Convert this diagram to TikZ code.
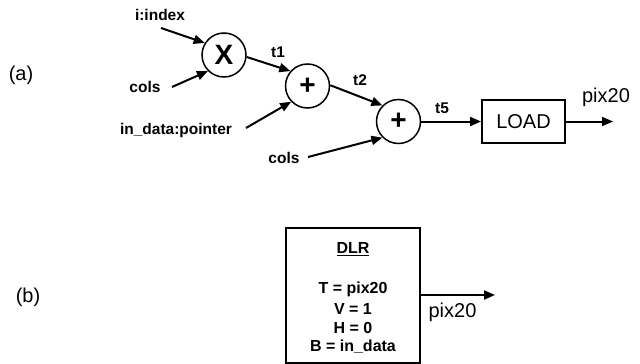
\documentclass[tikz,border=0pt]{standalone}
\usepackage{fontspec}
\setmainfont{Liberation Sans}
\usetikzlibrary{arrows.meta}
\begin{document}
\begin{tikzpicture}[x=1pt,y=-1pt,
  lbl/.style={font=\fontsize{15.5}{18}\selectfont\bfseries, inner sep=0pt},
  reg/.style={font=\fontsize{20}{24}\selectfont, inner sep=0pt},
  op/.style={circle, draw, line width=1.5pt, minimum size=44pt, inner sep=0pt, font=\fontsize{28}{30}\selectfont\bfseries},
  arr/.style={line width=2pt, -{Triangle[length=11pt,width=9pt]}},
  box/.style={draw, line width=2pt}]
\useasboundingbox (0,0) rectangle (640,364);
% (a)
\node[reg] (la) at (21,75) {(a)};
\node[op] (X) at (224,55) {X};
\node[op] (P1) at (307.5,86) {+};
\node[op] (P2) at (398.5,121.5) {+};
\node[box, minimum width=83pt, minimum height=43pt, inner sep=0pt, font=\fontsize{20}{24}\selectfont] (LOAD) at (523.5,121.5) {LOAD};
\node[lbl] (ii) at (160,15) {i:index};
\node[lbl] (c1) at (145,87) {cols};
\node[lbl] (ind) at (176,130) {in\_data:pointer};
\node[lbl] (c2) at (284,158) {cols};
\node[lbl] (t1) at (278,52) {t1};
\node[lbl] (t2) at (360,80) {t2};
\node[lbl] (t5) at (442,108) {t5};
\node[reg] (po) at (606,97) {pix20};
\coordinate (s1) at (161,28);
\coordinate (s2) at (172,87);
\coordinate (s3) at (246,128);
\coordinate (s4) at (308,157);
\coordinate (e1) at (613,121.5);
\draw[arr] (s1) -- (X.148);
\draw[arr] (s2) -- (X.225);
\draw[arr] (X.-5) -- (P1.139);
\draw[arr] (s3) -- (P1.224);
\draw[arr] (P1.2) -- (P2.135);
\draw[arr] (s4) -- (P2.225);
\draw[arr] (P2.east) -- (LOAD.west);
\draw[arr] (LOAD.east) -- (e1);
% (b)
\node[reg] (lb) at (28,297) {(b)};
\draw[box] (286,228) rectangle (420,363);
\node[lbl, font=\fontsize{16}{18}\selectfont\bfseries] (dlr) at (353,249) {\underline{DLR}};
\node[lbl, font=\fontsize{16}{18}\selectfont\bfseries] (dT) at (353,289) {T = pix20};
\node[lbl, font=\fontsize{16}{18}\selectfont\bfseries] (dV) at (353,309) {V = 1};
\node[lbl, font=\fontsize{16}{18}\selectfont\bfseries] (dH) at (353,328) {H = 0};
\node[lbl, font=\fontsize{16}{18}\selectfont\bfseries] (dB) at (353,347) {B = in\_data};
\coordinate (ds) at (420,295);
\coordinate (de) at (495,295);
\draw[arr] (ds) -- (de);
\node[reg] (pb) at (452.5,312) {pix20};
\end{tikzpicture}
\end{document}
